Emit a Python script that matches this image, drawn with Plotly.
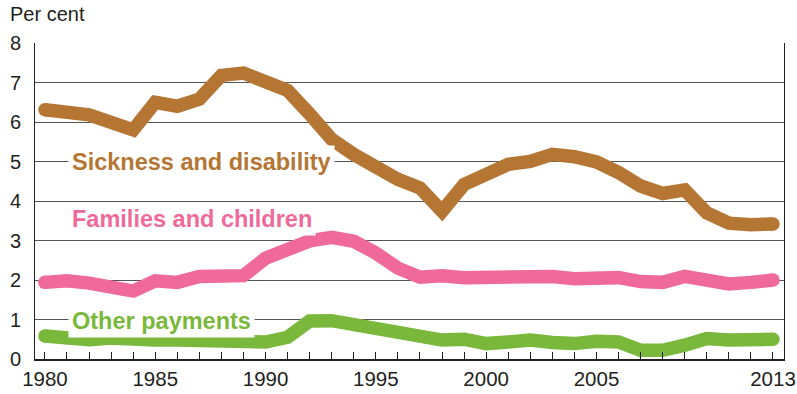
import plotly.graph_objects as go

# Social security outlays by category, 1980-2013 (per cent)
years = list(range(1980, 2014))

sickness_disability = [
    6.31, 6.24, 6.18, 5.99, 5.80, 6.50, 6.40, 6.58, 7.18, 7.24,
    7.02, 6.80, 6.20, 5.56, 5.18, 4.84, 4.55, 4.33, 3.74, 4.42,
    4.63, 4.93, 5.00, 5.18, 5.12, 4.99, 4.72, 4.38, 4.19, 4.28,
    3.70, 3.44, 3.40, 3.42,
]

families_children = [
    1.94, 1.98, 1.92, 1.85, 1.72, 1.98, 1.94, 2.09, 2.11, 2.11,
    2.55, 2.77, 2.99, 3.08, 2.98, 2.68, 2.30, 2.07, 2.11, 2.06,
    2.06, 2.13, 2.11, 2.09, 2.03, 2.02, 2.06, 1.96, 1.94, 2.09,
    1.98, 1.90, 1.94, 2.00,
]

other_payments = [
    0.58, 0.52, 0.49, 0.53, 0.48, 0.48, 0.48, 0.46, 0.47, 0.43,
    0.43, 0.55, 0.96, 0.97, 0.88, 0.76, 0.66, 0.60, 0.48, 0.50,
    0.39, 0.43, 0.48, 0.42, 0.39, 0.45, 0.43, 0.22, 0.22, 0.35,
    0.52, 0.48, 0.48, 0.50,
]

labelled_years = [1980, 1985, 1990, 1995, 2000, 2005, 2013]
y_ticks = [0, 1, 2, 3, 4, 5, 6, 7, 8]

series = [
    ("Sickness and disability", sickness_disability, "#b57634", 5.0),
    ("Families and children", families_children, "#ef6a9b", 3.55),
    ("Other payments", other_payments, "#7ab83c", 0.96),
]

LINE_W = 13.5
FONT = "Liberation Sans, Arial, Helvetica, sans-serif"

fig = go.Figure()

for name, values, color, label_y in series:
    fig.add_trace(go.Scatter(
        x=years, y=values, name=name, mode="lines",
        line=dict(color=color, width=LINE_W),
        hoverinfo="skip", showlegend=False,
    ))
    # round caps at both ends of each line
    fig.add_trace(go.Scatter(
        x=[years[0], years[-1]], y=[values[0], values[-1]], mode="markers",
        marker=dict(color=color, size=LINE_W, opacity=1, line=dict(width=0)),
        hoverinfo="skip", showlegend=False,
    ))
    fig.add_annotation(
        x=1981.05, y=label_y, xref="x", yref="y",
        text=f"<b>{name}</b>", showarrow=False,
        xanchor="left", yanchor="middle",
        font=dict(family=FONT, size=23.5, color=color),
        bgcolor="white", borderpad=3,
    )

fig.add_annotation(
    x=-0.036, y=1.092, xref="paper", yref="paper",
    text="Per cent", showarrow=False, xanchor="left", yanchor="middle",
    font=dict(family=FONT, size=20, color="#231f20"),
)

fig.update_layout(
    width=797, height=394,
    margin=dict(l=35, r=13, t=43, b=35, autoexpand=False),
    paper_bgcolor="white", plot_bgcolor="white",
    font=dict(family=FONT, size=20, color="#231f20"),
    xaxis=dict(
        range=[1979.55, 2013.5], automargin=False,
        tickmode="array", tickvals=years,
        ticktext=[str(y) if y in labelled_years else "" for y in years],
        ticks="inside", ticklen=7, tickwidth=1, tickcolor="#231f20",
        showline=True, linecolor="#231f20", linewidth=1.5,
        showgrid=False, zeroline=False,
        tickfont=dict(size=20.5), ticklabelstandoff=1,
    ),
    yaxis=dict(
        range=[0, 8], automargin=False,
        tickmode="array", tickvals=y_ticks,
        ticks="", showline=True, linecolor="#231f20", linewidth=1, mirror=True,
        showgrid=True, gridcolor="#555555", gridwidth=1,
        zeroline=False, tickfont=dict(size=20), ticklabelstandoff=9,
    ),
)

fig.write_html("out.html")
